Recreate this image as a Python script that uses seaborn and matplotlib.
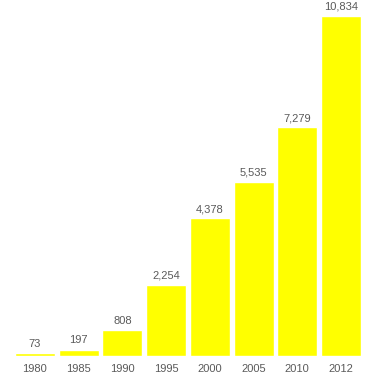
import matplotlib
matplotlib.use("Agg")
import matplotlib.pyplot as plt
import seaborn as sns
import pandas as pd

years = ['1980', '1985', '1990', '1995', '2000', '2005', '2010', '2012']
values = [73, 197, 808, 2254, 4378, 5535, 7279, 10834]

df = pd.DataFrame({'Year': years, 'Value': values})

sns.set_style("white")
plt.rcParams['font.family'] = ['Liberation Sans', 'DejaVu Sans']

fig = plt.figure(figsize=(3.83, 3.81), dpi=100)
ax = fig.add_axes([13.1 / 383, 25.3 / 381, 349.8 / 383, 340 / 381])

w = 0.915
sns.barplot(x='Year', y='Value', data=df, color='#ffff00', saturation=1,
            width=w, ax=ax)

for c in ax.containers:
    ax.bar_label(c, labels=[f'{v:,}' for v in values], padding=3,
                 fontsize=8, color='#5a5a5a', clip_on=False)

ax.set_xlim(-0.5, 7.5)
ax.set_ylim(0, 10834)
ax.set_xlabel('')
ax.set_ylabel('')
ax.set_yticks([])
ax.tick_params(axis='x', length=0, labelsize=8, labelcolor='#5a5a5a', pad=6)
sns.despine(left=True, bottom=True)

fig.savefig('out.png', dpi=100)
